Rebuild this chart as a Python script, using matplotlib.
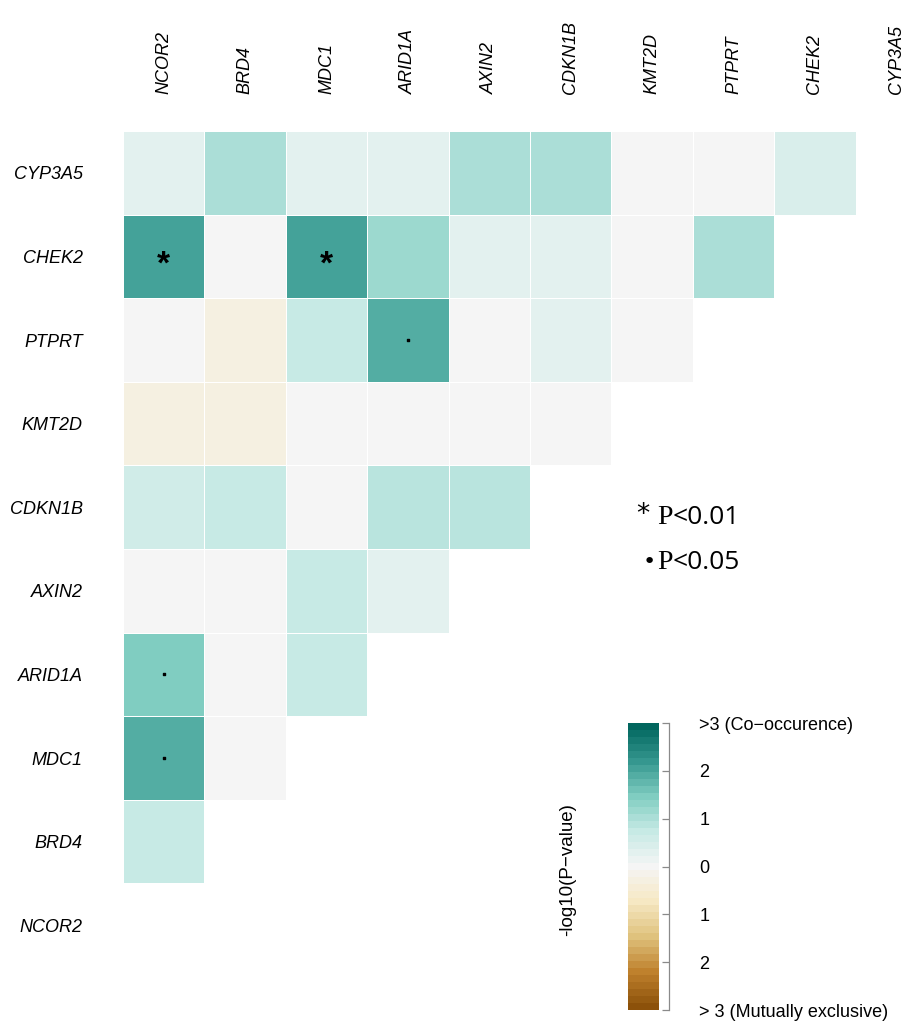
"""Pairwise co-occurrence / mutual exclusivity heatmap of mutated genes."""
import matplotlib

matplotlib.use("Agg")
import matplotlib.pyplot as plt  # noqa: E402
import numpy as np  # noqa: E402
from matplotlib.colors import LinearSegmentedColormap, Normalize  # noqa: E402
from matplotlib.cm import ScalarMappable  # noqa: E402

plt.rcParams["font.family"] = ["Liberation Sans", "DejaVu Sans"]

GENES = ["NCOR2", "BRD4", "MDC1", "ARID1A", "AXIN2",
         "CDKN1B", "KMT2D", "PTPRT", "CHEK2", "CYP3A5"]

# signed -log10(P): positive = co-occurrence, negative = mutually exclusive
# each row holds values against GENES[0], GENES[1], ... up to the row gene
CYP3A5 = [0.31, 0.96, 0.31, 0.35, 1.08, 1.08, 0.0, 0.0, 0.40]
CHEK2 = [2.05, 0.0, 2.05, 1.12, 0.33, 0.33, 0.0, 1.08]
PTPRT = [0.0, -0.30, 0.77, 1.95, 0.0, 0.30, 0.0]
KMT2D = [-0.22, -0.30, 0.0, 0.0, 0.0, 0.0]
CDKN1B = [0.55, 0.77, 0.0, 0.90, 0.90]
AXIN2 = [0.0, 0.0, 0.77, 0.30]
ARID1A = [1.40, 0.0, 0.75]
MDC1 = [1.90, 0.0]
BRD4 = [0.77]
NCOR2 = []

ROWS = {"CYP3A5": CYP3A5, "CHEK2": CHEK2, "PTPRT": PTPRT, "KMT2D": KMT2D,
        "CDKN1B": CDKN1B, "AXIN2": AXIN2, "ARID1A": ARID1A, "MDC1": MDC1,
        "BRD4": BRD4, "NCOR2": NCOR2}

# significant pairs: (row gene, column gene, marker)
SIG = [("CHEK2", "NCOR2", "*"), ("CHEK2", "MDC1", "*"),
       ("PTPRT", "ARID1A", "."), ("ARID1A", "NCOR2", "."),
       ("MDC1", "NCOR2", ".")]

CB_TICKS = [-3, -2, -1, 0, 1, 2, 3]
CB_LABELS = ["> 3 (Mutually exclusive)", "2", "1", "0", "1", "2",
             ">3 (Co\u2212occurence)"]

row_order = GENES[::-1]
n = len(GENES)
mat = np.full((n, n), np.nan)
for r, g in enumerate(row_order):
    vals = ROWS[g]
    mat[r, :len(vals)] = vals
mat = np.ma.masked_invalid(mat)

brbg9 = ["#8c510a", "#bf812d", "#dfc27d", "#f6e8c3", "#f5f5f5",
         "#c7eae5", "#80cdc1", "#35978f", "#01665e"]
cmap = LinearSegmentedColormap.from_list("brbg9", brbg9, N=41)
norm = Normalize(-3, 3)

W, H = 902, 1022
fig = plt.figure(figsize=(W / 100, H / 100), dpi=100)
ax = fig.add_axes([123 / W, 55 / H, 814 / W, 836 / H])
ax.pcolormesh(np.arange(n + 1), np.arange(n + 1), mat, cmap=cmap, norm=norm,
              edgecolors="white", linewidth=0.6)
ax.set_xlim(0, n)
ax.set_ylim(n, 0)

for rg, cg, mk in SIG:
    x = GENES.index(cg) + 0.5
    y = row_order.index(rg) + 0.5
    if mk == "*":
        ax.text(x, y + 0.1, "*", ha="center", va="center", fontsize=24,
                fontweight="bold", color="black")
    else:
        ax.scatter([x], [y], marker="s", s=4, color="black", zorder=3)

ax.xaxis.tick_top()
ax.set_xticks(np.arange(n) + 0.5)
ax.set_xticklabels(GENES, rotation=90, fontsize=13, style="italic")
ax.set_yticks(np.arange(n) + 0.5)
ax.set_yticklabels(row_order, fontsize=13, style="italic")
ax.tick_params(axis="x", length=0, pad=27)
ax.tick_params(axis="y", length=0, pad=29)
for s in ax.spines.values():
    s.set_visible(False)

# significance key: serif P followed by sans threshold
fig.text(636 / W, 1 - 522 / H, "*", fontsize=19, family="DejaVu Sans",
         va="baseline")
p1 = fig.text(657 / W, 1 - 524 / H, "P", fontsize=20,
              family="Liberation Serif", va="baseline")
ax.annotate("<0.01", xy=(1, 0), xycoords=p1, va="bottom", ha="left",
            fontsize=19, family="Open Sans")
fig.text(643 / W, 1 - 568 / H, "\u2022", fontsize=16, family="DejaVu Sans",
         va="baseline")
p2 = fig.text(657 / W, 1 - 569 / H, "P", fontsize=20,
              family="Liberation Serif", va="baseline")
ax.annotate("<0.05", xy=(1, 0), xycoords=p2, va="bottom", ha="left",
            fontsize=19, family="Open Sans")

# colour key
cax = fig.add_axes([628 / W, 12 / H, 31 / W, 287 / H])
cb = fig.colorbar(ScalarMappable(norm=norm, cmap=cmap), cax=cax)
cb.outline.set_visible(False)
cb.set_ticks(CB_TICKS)
cb.set_ticklabels(CB_LABELS)
cax.spines["right"].set_visible(True)
cax.spines["right"].set_position(("outward", 7))
cax.spines["right"].set_color("#8a8a8a")
cax.spines["right"].set_linewidth(0.9)
cax.tick_params(axis="y", direction="in", length=5, width=0.9,
                color="#8a8a8a", pad=22, labelsize=13)
fig.text(568 / W, 1 - 870 / H, "-log10(P\u2212value)", rotation=90,
         ha="center", va="center", fontsize=13.5)

fig.savefig("out.png", dpi=100)
